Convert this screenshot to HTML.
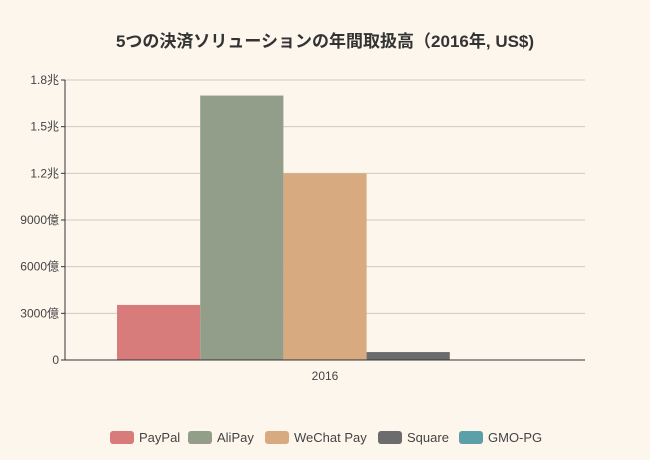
<!DOCTYPE html>
<html><head><meta charset="utf-8"><style>
body{margin:0;background:#fcf6ed;}
svg{display:block;font-family:"Liberation Sans","Noto Sans CJK JP",sans-serif;}
</style></head><body>
<svg id="c" width="650" height="460">
<rect width="650" height="460" fill="#fcf6ed"/>
<text x="325" y="47" text-anchor="middle" font-size="17" font-weight="bold" fill="#333">5つの決済ソリューションの年間取扱高（2016年, US$)</text>
<g id="grid"></g><g id="bars"></g><g id="axes"></g><g id="legend"></g>
</svg>
<script>
const categories=["2016"];
const seriesNames=["PayPal","AliPay","WeChat Pay","Square","GMO-PG"];
const seriesValues=[0.354,1.70,1.20,0.051,0.002];
const tickValues=[0,0.3,0.6,0.9,1.2,1.5,1.8];
const tickLabels=["0","3000億","6000億","9000億","1.2兆","1.5兆","1.8兆"];
const colors=["#d77b7b","#929e8a","#d7aa80","#6c6c6e","#5b9fa8"];
const NS="http://www.w3.org/2000/svg";
const X0=65,X1=585,Y0=360,Y1=80,YMAX=1.8;
const y=v=>Y0-(v/YMAX)*(Y0-Y1);
function mk(t,a,p){const e=document.createElementNS(NS,t);for(const k in a)e.setAttribute(k,a[k]);p.appendChild(e);return e;}
const grid=document.getElementById('grid'),axes=document.getElementById('axes'),bars=document.getElementById('bars'),leg=document.getElementById('legend');
tickValues.forEach((v,i)=>{
 if(v>0){const l=mk('line',{x1:X0,x2:X1,y1:y(v),y2:y(v),stroke:'#cfcac0','stroke-width':1},grid);
 
 }
 const tk=mk('line',{x1:X0-4,x2:X0,y1:y(v),y2:y(v),stroke:'#333'},axes);
 
 
 const t=mk('text',{x:X0-6,y:y(v)+4,'text-anchor':'end','font-size':12,fill:'#444'},axes);
 t.textContent=tickLabels[i];
 
 
});
const ya=mk('line',{x1:X0,x2:X0,y1:Y1,y2:Y0,stroke:'#333'},axes);


const xa=mk('line',{x1:X0,x2:X1,y1:Y0,y2:Y0,stroke:'#333'},axes);


const band=(X1-X0)/categories.length, pad=52, bw=(band-2*pad)/seriesNames.length;
categories.forEach((c,ci)=>{
 const bx=X0+ci*band+pad;
 seriesValues.forEach((v,i)=>{
  const r=mk('rect',{x:bx+i*bw,y:y(v),width:bw,height:Y0-y(v),fill:colors[i]},bars);
  
  
 });
 const t=mk('text',{x:X0+ci*band+band/2,y:Y0+20,'text-anchor':'middle','font-size':12,fill:'#444'},axes);
 t.textContent=c;
 
 
});
const lx=[110,188,265,378,459];
seriesNames.forEach((n,i)=>{
 const g=mk('g',{},leg);
 
 
 mk('rect',{x:lx[i],y:431,width:24,height:13,rx:3,fill:colors[i]},g);
 const t=mk('text',{x:lx[i]+29,y:442,'font-size':13,fill:'#444'},g);
 t.textContent=n;
});
</script>
</body></html>
